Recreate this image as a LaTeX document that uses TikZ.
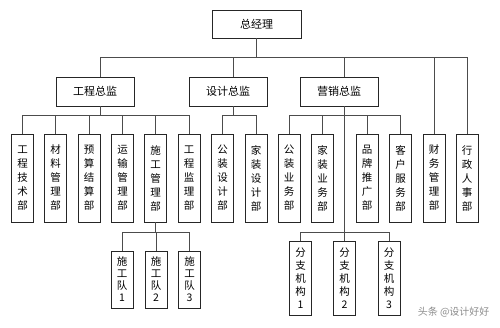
\documentclass[tikz,border=0pt]{standalone}
\usepackage{fontspec}
\setmainfont{Noto Sans CJK SC}

\begin{document}
\begin{tikzpicture}[x=1pt, y=-1pt,
      hb/.style={draw=black!85, line width=0.9pt, inner sep=0pt, font=\fontsize{11}{12}\selectfont},
      vb/.style={draw=black!85, line width=0.9pt, inner sep=0pt, minimum width=22pt, align=center, font=\fontsize{10.5}{14}\selectfont},
      ln/.style={draw=black!70, line width=0.8pt}
    ]
    \useasboundingbox[fill=white] (0,0) rectangle (500,328);

    % top and second level
    \node[hb, minimum width=89pt, minimum height=28pt] (gm) at (256.5,24) {总经理};
    \node[hb, minimum width=78pt, minimum height=29pt] (gc) at (95,91.5) {工程总监};
    \node[hb, minimum width=78pt, minimum height=29pt] (sj) at (228,91.5) {设计总监};
    \node[hb, minimum width=78pt, minimum height=29pt] (yx) at (339,91.5) {营销总监};

    % departments
    \foreach \n/\x/\t in {a1/22.5/工\\程\\技\\术\\部, a2/55.5/材\\料\\管\\理\\部, a3/89/预\\算\\结\\算\\部,
        a4/122.5/运\\输\\管\\理\\部, a5/155.5/施\\工\\管\\理\\部, a6/189/工\\程\\监\\理\\部,
        d1/222.5/公\\装\\设\\计\\部, d2/256/家\\装\\设\\计\\部,
        m1/289/公\\装\\业\\务\\部, m2/322.5/家\\装\\业\\务\\部, m3/367/品\\牌\\推\\广\\部, m4/400.5/客\\户\\服\\务\\部,
        cw/434/财\\务\\管\\理\\部, xz/467/行\\政\\人\\事\\部} {
      \node[vb, minimum height=88pt] (\n) at (\x,178) {\t};
    }

    % teams and branches
    \foreach \n/\x/\k in {s1/122/1, s2/156/2, s3/189.5/3} {
      \node[vb, minimum height=57pt, font=\fontsize{10.5}{12}\selectfont] (\n) at (\x,279.5) {施\\工\\队\\\k};
    }
    \foreach \n/\x/\k in {f1/300.5/1, f2/344.5/2, f3/389/3} {
      \node[vb, minimum height=74pt, font=\fontsize{10.5}{13}\selectfont] (\n) at (\x,278) {分\\支\\机\\构\\\k};
    }

    % connectors
    \foreach \c/\s in {gc/5, sj/5, yx/5, cw/0, xz/0} {
      \draw[ln] (gm.south) -- ++(0,19) -| ([xshift=\s pt]\c.north);
    }
    \foreach \c in {a1, a2, a3, a4, a5, a6} {
      \draw[ln] ([xshift=5pt]gc.south) -- ++(0,9) -| (\c.north);
    }
    \foreach \c in {d1, d2} {
      \draw[ln] ([xshift=5pt]sj.south) -- ++(0,9) -| (\c.north);
    }
    \foreach \c in {m1, m2, m3, m4} {
      \draw[ln] ([xshift=5pt]yx.south) -- ++(0,9) -| (\c.north);
    }
    \foreach \c in {f1, f2, f3} {
      \draw[ln] ([xshift=5pt]yx.south) -- ++(0,126) -| (\c.north);
    }
    \foreach \c in {s1, s2, s3} {
      \draw[ln] (a5.south) -- ++(0,10) -| (\c.north);
    }

    \node[text=black!45, font=\fontsize{10}{12}\selectfont, anchor=east] (wm) at (493,312) {头条 @设计好好};
  \end{tikzpicture}
\end{document}
